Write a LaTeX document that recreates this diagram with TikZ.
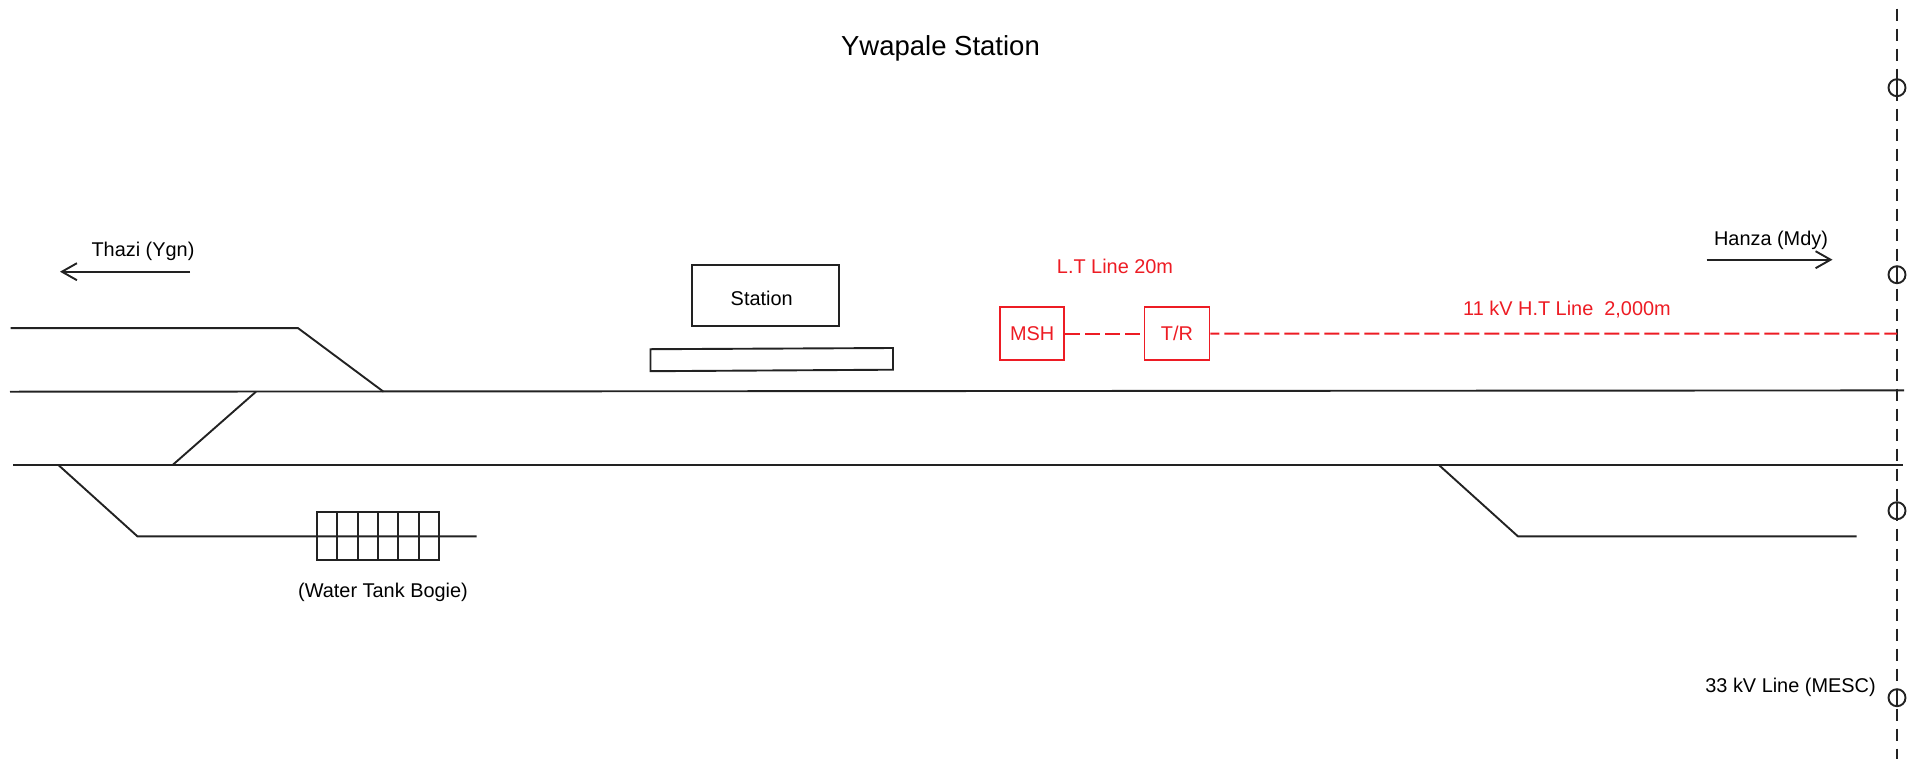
\documentclass[tikz,border=0pt]{standalone}
\usepackage{fontspec}
\setmainfont{Liberation Sans}
\usetikzlibrary{arrows.meta}
\definecolor{linek}{HTML}{222222}
\definecolor{redl}{HTML}{ED1C24}
\tikzset{
  track/.style={draw=linek,line width=1.9pt,line join=miter},
  lbl/.style={inner sep=0pt,text=black,font=\fontsize{19.9}{22}\selectfont},
  redlbl/.style={lbl,text=redl},
  titlelbl/.style={lbl,font=\fontsize{27.5}{30}\selectfont},
  bx/.style={draw=linek,line width=1.9pt,inner sep=0pt,text=black,font=\fontsize{19.9}{22}\selectfont},
  redbx/.style={bx,draw=redl,text=redl},
  dir/.style={draw=linek,line width=1.9pt,-{Straight Barb[length=15pt,width=17pt,line width=1.9pt]}},
  feed/.style={draw=redl,line width=2pt,dash pattern=on 15pt off 5pt},
  hv/.style={draw=linek,line width=2pt,dash pattern=on 12pt off 8pt},
  pole/.style={circle,draw=linek,line width=1.9pt,minimum size=17pt,inner sep=0pt,
    path picture={\draw[linek,line width=1.9pt] (path picture bounding box.north) -- (path picture bounding box.south);}},
}
\begin{document}
\begin{tikzpicture}[x=1pt,y=-1pt]
\useasboundingbox (0,-0.7) rectangle (1917,757.3);
% texts
\node[titlelbl] (title) at (940.5,48) {Ywapale Station};
\node[lbl] (thazi) at (143,251) {Thazi (Ygn)};
\node[lbl] (hanza) at (1771,240) {Hanza (Mdy)};
\node[redlbl] (lt) at (1115,266) {L.T Line 20m};
\node[redlbl] (ht) at (1567,308.5) {11 kV H.T Line\ \ 2,000m};
\node[lbl] (bogie) at (383,592) {(Water Tank Bogie)};
\node[lbl] (mesc) at (1790.5,687) {33 kV Line (MESC)};
% direction arrows
\coordinate (ta) at (190,271);
\coordinate (tb) at (60,271);
\draw[dir] (ta) -- (tb);
\coordinate (ha) at (1706.7,259);
\coordinate (hb) at (1832.5,259);
\draw[dir] (ha) -- (hb);
% station
\node[bx,minimum width=147pt,minimum height=60.5pt] (station) at (765.5,294.7) {};
\node[lbl] (stationtext) at (761.7,298) {Station};
\coordinate (pa) at (650.5,348.5);
\coordinate (pb) at (893,347.3);
\coordinate (pc) at (893,369);
\coordinate (pd) at (650.5,370.5);
\draw[track] (pa) -- (pb) -- (pc) -- (pd) -- cycle;
% tracks
\coordinate (t1a) at (10.5,327.4);
\coordinate (t1b) at (298,327.4);
\coordinate (t1c) at (383.5,391);
\draw[track] (t1a) -- (t1b) -- (t1c);
\coordinate (m1a) at (10,391);
\coordinate (m1b) at (1904,389.7);
\draw[track] (m1a) -- (m1b);
\coordinate (m2a) at (13,464.4);
\coordinate (m2b) at (1903,464.4);
\draw[track] (m2a) -- (m2b);
\coordinate (xa) at (172.5,464.4);
\coordinate (xb) at (256,391);
\draw[track] (xa) -- (xb);
\coordinate (s1a) at (58.5,464.4);
\coordinate (s1b) at (137.5,535.7);
\coordinate (s1c) at (476.5,535.7);
\draw[track] (s1a) -- (s1b) -- (s1c);
\coordinate (s2a) at (1439,464.4);
\coordinate (s2b) at (1518,535.7);
\coordinate (s2c) at (1856.5,535.7);
\draw[track] (s2a) -- (s2b) -- (s2c);
% bogie
\node[bx,minimum width=122.5pt,minimum height=48.5pt] (tank) at (378,535.4) {};
\foreach \vx/\vn in {336.7/a,357.7/b,378.3/c,398.3/d,419.3/e}{
  \coordinate (v\vn t) at (\vx,510.7);
  \coordinate (v\vn b) at (\vx,560);
  \draw[track] (v\vn t) -- (v\vn b);
}
% electrical
\node[redbx,minimum width=64.3pt,minimum height=52.6pt] (msh) at (1032.2,333) {MSH};
\node[redbx,minimum width=65pt,minimum height=52.6pt] (tr) at (1177,333) {T/R};
\coordinate (hvtop) at (1897,8);
\coordinate (hvbot) at (1897,758);
\draw[hv] (hvtop) -- (hvbot);
\coordinate (tap) at (1897,332.8);
\draw[feed] (msh.east) -- (tr.west);
\draw[feed,dash phase=6pt] (tr.east) -- (tap);
\node[pole] (p1) at (1897,87) {};
\node[pole] (p2) at (1897,274) {};
\node[pole] (p3) at (1897,510) {};
\node[pole] (p4) at (1897,697) {};
\end{tikzpicture}
\end{document}
